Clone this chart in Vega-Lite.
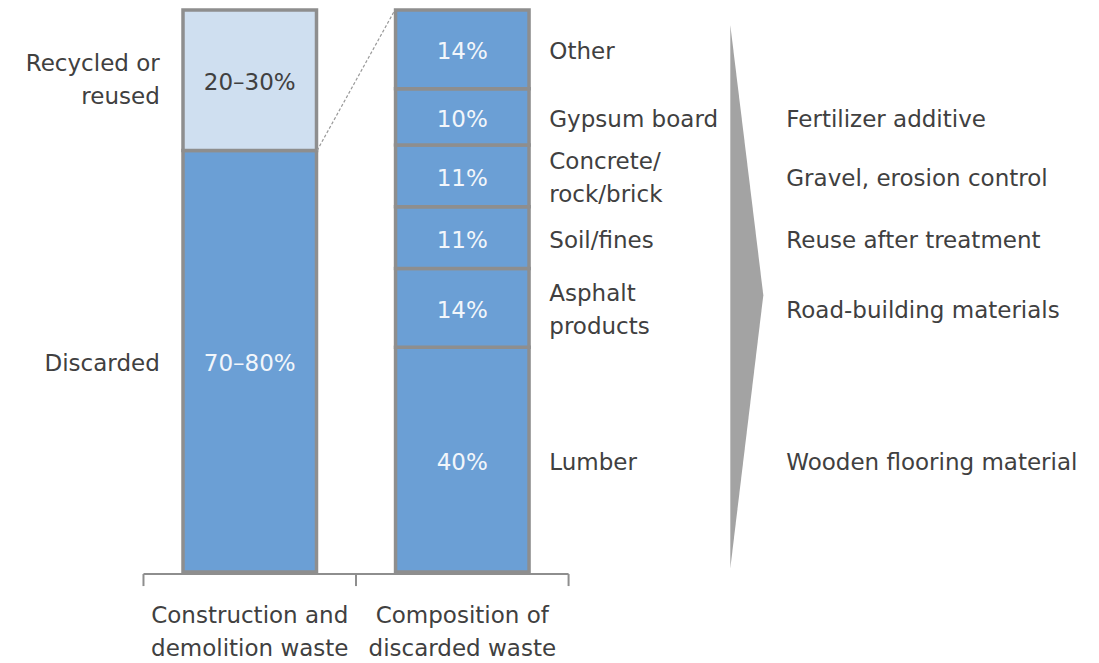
{
  "$schema": "https://vega.github.io/schema/vega-lite/v6.json",
  "width": 1099,
  "height": 663,
  "padding": 0,
  "autosize": {"type": "none"},
  "background": "white",
  "config": {
    "view": {"stroke": null},
    "text": {"font": "DejaVu Sans", "fontSize": 23, "color": "#404040", "lineBreak": "\n", "lineHeight": 33}
  },
  "datasets": {
    "segments": [
      {"bar": 1, "ord": 1, "seg": "Discarded", "value": 75, "pct": "70–80%", "label": "Discarded", "use": ""},
      {"bar": 1, "ord": 2, "seg": "Recycled", "value": 25, "pct": "20–30%", "label": "Recycled or\nreused", "use": ""},
      {"bar": 2, "ord": 1, "seg": "Lumber", "value": 40, "pct": "40%", "label": "Lumber", "use": "Wooden flooring material"},
      {"bar": 2, "ord": 2, "seg": "Asphalt", "value": 14, "pct": "14%", "label": "Asphalt\nproducts", "use": "Road-building materials"},
      {"bar": 2, "ord": 3, "seg": "Soil", "value": 11, "pct": "11%", "label": "Soil/fines", "use": "Reuse after treatment"},
      {"bar": 2, "ord": 4, "seg": "Concrete", "value": 11, "pct": "11%", "label": "Concrete/\nrock/brick", "use": "Gravel, erosion control"},
      {"bar": 2, "ord": 5, "seg": "Gypsum", "value": 10, "pct": "10%", "label": "Gypsum board", "use": "Fertilizer additive"},
      {"bar": 2, "ord": 6, "seg": "Other", "value": 14, "pct": "14%", "label": "Other", "use": ""}
    ],
    "categories": [
      {"bar": 1, "name": "Construction and\ndemolition waste"},
      {"bar": 2, "name": "Composition of\ndiscarded waste"}
    ],
    "ticks": [{"t": 0.5}, {"t": 1.5}, {"t": 2.5}]
  },
  "layer": [
    {
      "data": {"name": "segments"},
      "transform": [
        {"stack": "value", "groupby": ["bar"], "sort": [{"field": "ord"}], "as": ["v0", "v1"]}
      ],
      "mark": {"type": "bar", "width": 133.5, "stroke": "#8e8e8e", "strokeWidth": 3.5},
      "encoding": {
        "x": {"field": "bar", "type": "quantitative", "scale": {"domain": [-0.1515, 4.972], "nice": false, "zero": false}, "axis": null},
        "y": {"field": "v0", "type": "quantitative", "scale": {"domain": [-16.19, 101.78], "nice": false, "zero": false}, "axis": null},
        "y2": {"field": "v1"},
        "fill": {"condition": {"test": "datum.seg == 'Recycled'", "value": "#cfdff0"}, "value": "#6b9fd5"}
      }
    },
    {
      "data": {"name": "segments"},
      "transform": [
        {"stack": "value", "groupby": ["bar"], "sort": [{"field": "ord"}], "as": ["v0", "v1"]},
        {"fold": ["v0", "v1"], "as": ["k", "v"]},
        {"aggregate": [{"op": "mean", "field": "v", "as": "mid"}], "groupby": ["bar", "seg", "pct", "label", "use"]}
      ],
      "encoding": {
        "x": {"field": "bar", "type": "quantitative", "scale": {"domain": [-0.1515, 4.972], "nice": false, "zero": false}, "axis": null},
        "y": {"field": "mid", "type": "quantitative", "scale": {"domain": [-16.19, 101.78], "nice": false, "zero": false}, "axis": null}
      },
      "layer": [
        {
          "mark": {"type": "text", "align": "center", "baseline": "middle", "dy": 3},
          "encoding": {
            "text": {"field": "pct"},
            "color": {"condition": {"test": "datum.seg == 'Recycled'", "value": "#404040"}, "value": "#f2f6fb"}
          }
        },
        {
          "transform": [{"filter": "datum.bar == 1 && indexof(datum.label, '\\n') < 0"}],
          "mark": {"type": "text", "align": "right", "baseline": "middle", "dx": -90, "dy": 3},
          "encoding": {"text": {"field": "label"}}
        },
        {
          "transform": [{"filter": "datum.bar == 1 && indexof(datum.label, '\\n') >= 0"}],
          "mark": {"type": "text", "align": "right", "baseline": "middle", "dx": -90, "dy": -16},
          "encoding": {"text": {"field": "label"}}
        },
        {
          "transform": [{"filter": "datum.bar == 2 && indexof(datum.label, '\\n') < 0"}],
          "mark": {"type": "text", "align": "left", "baseline": "middle", "dx": 87, "dy": 3},
          "encoding": {"text": {"field": "label"}}
        },
        {
          "transform": [{"filter": "datum.bar == 2 && indexof(datum.label, '\\n') >= 0"}],
          "mark": {"type": "text", "align": "left", "baseline": "middle", "dx": 87, "dy": -14},
          "encoding": {"text": {"field": "label"}}
        },
        {
          "transform": [{"filter": "datum.bar == 2 && datum.use != ''"}],
          "mark": {"type": "text", "align": "left", "baseline": "middle", "dx": 324, "dy": 3},
          "encoding": {"text": {"field": "use"}}
        }
      ]
    },
    {
      "data": {"name": "categories"},
      "mark": {"type": "text", "align": "center", "baseline": "middle", "dy": -15.5},
      "encoding": {
        "x": {"field": "bar", "type": "quantitative", "scale": {"domain": [-0.1515, 4.972], "nice": false, "zero": false}, "axis": null},
        "y": {"datum": -10.5, "type": "quantitative", "scale": {"domain": [-16.19, 101.78], "nice": false, "zero": false}, "axis": null},
        "text": {"field": "name"}
      }
    },
    {
      "data": {"values": [{}]},
      "mark": {"type": "rule", "stroke": "#8e8e8e", "strokeWidth": 2},
      "encoding": {
        "x": {"datum": 0.5, "type": "quantitative", "scale": {"domain": [-0.1515, 4.972], "nice": false, "zero": false}, "axis": null},
        "x2": {"datum": 2.5},
        "y": {"datum": -0.36, "type": "quantitative", "scale": {"domain": [-16.19, 101.78], "nice": false, "zero": false}, "axis": null}
      }
    },
    {
      "data": {"name": "ticks"},
      "mark": {"type": "rule", "stroke": "#8e8e8e", "strokeWidth": 2},
      "encoding": {
        "x": {"field": "t", "type": "quantitative", "scale": {"domain": [-0.1515, 4.972], "nice": false, "zero": false}, "axis": null},
        "y": {"datum": -0.36, "type": "quantitative", "scale": {"domain": [-16.19, 101.78], "nice": false, "zero": false}, "axis": null},
        "y2": {"datum": -2.5}
      }
    },
    {
      "data": {"values": [{}]},
      "mark": {"type": "rule", "stroke": "#9a9a9a", "strokeWidth": 1.2, "strokeDash": [3, 2]},
      "encoding": {
        "x": {"datum": 1.317, "type": "quantitative", "scale": {"domain": [-0.1515, 4.972], "nice": false, "zero": false}, "axis": null},
        "x2": {"datum": 1.683},
        "y": {"datum": 75, "type": "quantitative", "scale": {"domain": [-16.19, 101.78], "nice": false, "zero": false}, "axis": null},
        "y2": {"datum": 100}
      }
    },
    {
      "data": {"values": [{}]},
      "mark": {"type": "point", "filled": true, "opacity": 1, "fill": "#a3a3a3", "strokeWidth": 0, "size": 294849, "shape": "M0,-1L0.1215,-0.0055L0,1Z"},
      "encoding": {
        "x": {"datum": 3.261, "type": "quantitative", "scale": {"domain": [-0.1515, 4.972], "nice": false, "zero": false}, "axis": null},
        "y": {"datum": 49.0, "type": "quantitative", "scale": {"domain": [-16.19, 101.78], "nice": false, "zero": false}, "axis": null}
      }
    }
  ]
}
